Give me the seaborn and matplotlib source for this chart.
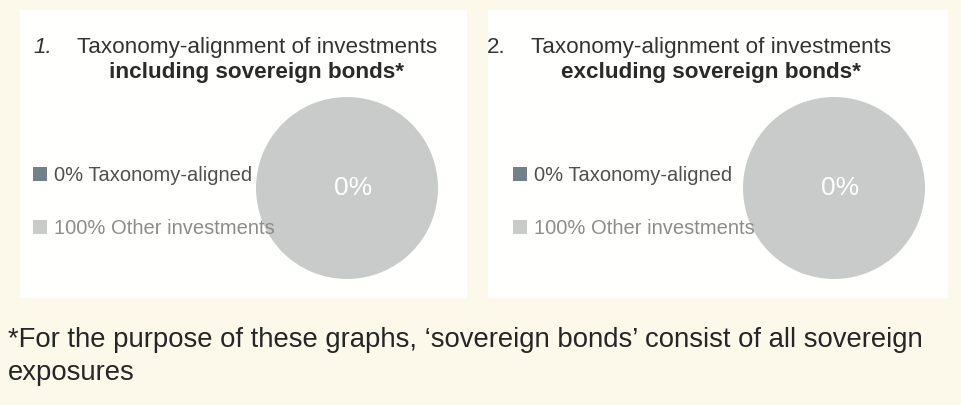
import matplotlib
matplotlib.use("Agg")
import matplotlib.pyplot as plt
import seaborn as sns
from matplotlib.patches import Rectangle

sns.set_theme(style="white")
plt.rcParams["font.family"] = ["Liberation Sans", "DejaVu Sans"]

# data
categories = ["Taxonomy-aligned", "Other investments"]
incl_values = [0, 100]
excl_values = [0, 100]
numbers = ["1.", "2."]
title_top = "Taxonomy-alignment of investments"
title_bold = ["including sovereign bonds*", "excluding sovereign bonds*"]
centre_label = "0%"
footnote_lines = ["*For the purpose of these graphs, \u2018sovereign bonds\u2019 consist of all sovereign",
                  "exposures"]

colors = ["#6f8189", "#c8cbca"]
legend_text_colors = ["#505050", "#8c8c8c"]

W, H = 962, 405
fig = plt.figure(figsize=(W / 100, H / 100), dpi=100)
fig.patch.set_facecolor("#fcf9ea")


def fx(px):
    return px / W


def fy(py):
    return 1 - py / H


# white panels behind each chart
for x0, x1 in [(20, 467), (488, 948)]:
    fig.patches.append(Rectangle((fx(x0), fy(298)), fx(x1) - fx(x0), fy(10) - fy(298),
                                 transform=fig.transFigure, facecolor="#fffffd",
                                 edgecolor="none", zorder=-1))

panels = [
    dict(values=incl_values, num_x=33, title_cx=257, pie_cx=347, leg_x=23),
    dict(values=excl_values, num_x=487, title_cx=711, pie_cx=834, leg_x=503),
]

for i, p in enumerate(panels):
    fig.text(fx(p["num_x"]), fy(53), numbers[i], fontsize=16.2, color="#333333",
             style="italic" if i == 0 else "normal", va="baseline", ha="left")
    fig.text(fx(p["title_cx"]), fy(53), title_top, fontsize=16.2, color="#333333",
             va="baseline", ha="center")
    fig.text(fx(p["title_cx"]), fy(78), title_bold[i], fontsize=16.2, color="#2a2a2a",
             fontweight="bold", va="baseline", ha="center")

    r = 91
    ax = fig.add_axes([fx(p["pie_cx"] - r), fy(188 + r), fx(2 * r), fy(188 - r) - fy(188 + r)])
    wedges, _ = ax.pie(p["values"], colors=colors, startangle=90, counterclock=False,
                       radius=1, wedgeprops=dict(linewidth=0))
    ax.set_xlim(-1, 1)
    ax.set_ylim(-1, 1)
    ax.set_aspect("equal")
    ax.axis("off")
    ax.text(0.07, 0.0, centre_label, color="white", fontsize=19, ha="center", va="center")

    labels = [f"{v}% {c}" for v, c in zip(p["values"], categories)]
    leg = fig.legend(wedges, labels, loc="center left",
                     bbox_to_anchor=(fx(p["leg_x"]), fy(202)),
                     frameon=False, fontsize=14.5, handlelength=0.7, handleheight=0.7,
                     handletextpad=0.35, labelspacing=1.7, borderpad=0)
    for t, c in zip(leg.get_texts(), legend_text_colors):
        t.set_color(c)

for k, line in enumerate(footnote_lines):
    fig.text(fx(8), fy(347 + 33 * k), line, fontsize=19.8, color="#262626",
             va="baseline", ha="left")

fig.savefig("out.png", dpi=100, facecolor=fig.get_facecolor())
